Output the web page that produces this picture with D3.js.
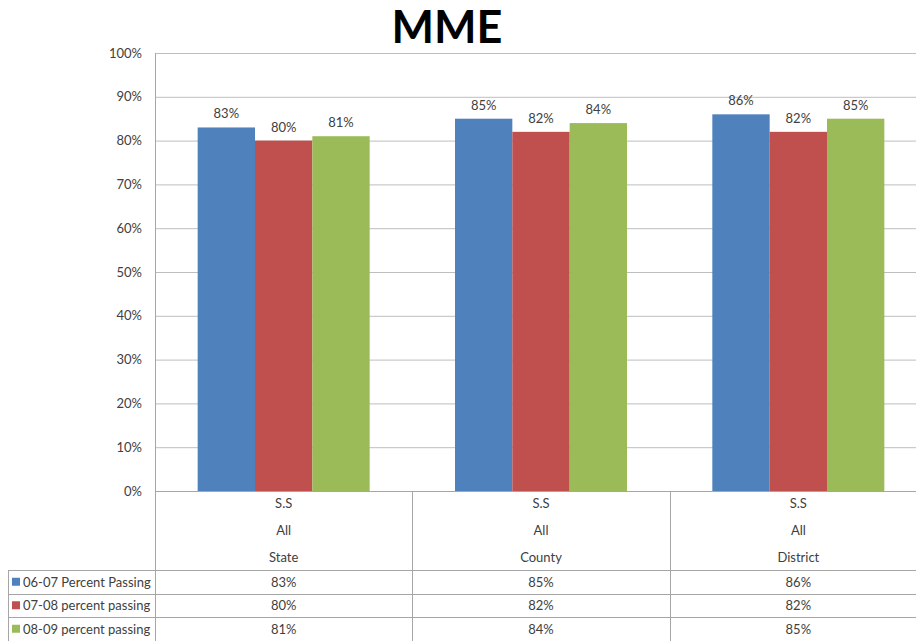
<!DOCTYPE html>
<html>
<head>
  <meta charset="utf-8">
  <title>MME</title>
  <style>
    body { margin: 0; background: #fff; }
    text { font-family: Lato, 'Open Sans', sans-serif; }
  </style>
</head>
<body>
  <script src="https://d3js.org/d3.v7.min.js"></script>
  <script>
    const categories = ['State', 'County', 'District'];
    const categoryLines = ['S.S', 'All'];
    const seriesNames = ['06-07 Percent Passing', '07-08 percent passing', '08-09 percent passing'];
    const colors = ['#4F81BD', '#C0504D', '#9BBB59'];
    const values0607 = [83, 85, 86];
    const values0708 = [80, 82, 82];
    const values0809 = [81, 84, 85];
    const yTicks = [0, 10, 20, 30, 40, 50, 60, 70, 80, 90, 100];

    const series = [values0607, values0708, values0809];

    const width = 916;
    const height = 641;
    const plotLeft = 155, plotRight = 927, plotTop = 53, plotBottom = 491;
    const tableLeft = 8;
    const rowLines = [570, 594, 617];
    const rowH = 23.5;

    const svg = d3.select('body')
      .append('svg')
      .attr('width', width)
      .attr('height', height);

    const x = d3.scaleBand().domain(categories).range([plotLeft, plotRight]);
    const xs = d3.scaleBand().domain(d3.range(3)).range([0, 172]);
    const y = d3.scaleLinear().domain([0, 100]).range([plotBottom, plotTop]);

    // title
    svg.append('text')
      .attr('x', 447)
      .attr('y', 43)
      .attr('text-anchor', 'middle')
      .attr('font-size', 45)
      .attr('font-weight', 'bold')
      .attr('fill', '#000')
      .text('MME');

    // gridlines
    svg.append('g')
      .selectAll('line')
      .data(yTicks.slice(1))
      .join('line')
      .attr('x1', plotLeft)
      .attr('x2', plotRight)
      .attr('y1', d => y(d) + 0.5)
      .attr('y2', d => y(d) + 0.5)
      .attr('stroke', '#BEBEBE')
      .attr('stroke-width', 1);

    // y axis labels
    svg.append('g')
      .selectAll('text')
      .data(yTicks)
      .join('text')
      .attr('x', 142)
      .attr('y', d => y(d) + 4.5)
      .attr('text-anchor', 'end')
      .attr('font-size', 13)
      .attr('fill', '#404040')
      .text(d => d + '%');

    // bars
    const groups = svg.append('g')
      .selectAll('g')
      .data(series)
      .join('g')
      .attr('fill', (d, i) => colors[i]);

    const barData = (d, i) => d.map((v, j) => ({ v, i, c: categories[j] }));
    const barX = d => x(d.c) + (x.bandwidth() - 172) / 2 + xs(d.i);

    groups.selectAll('rect')
      .data(barData)
      .join('rect')
      .attr('x', barX)
      .attr('y', d => y(d.v))
      .attr('width', xs.bandwidth())
      .attr('height', d => plotBottom - y(d.v));

    groups.selectAll('text')
      .data(barData)
      .join('text')
      .attr('x', d => barX(d) + xs.bandwidth() / 2)
      .attr('y', d => y(d.v) - 9)
      .attr('text-anchor', 'middle')
      .attr('font-size', 13)
      .attr('fill', '#404040')
      .text(d => d.v + '%');

    // frame lines
    const lines = svg.append('g').attr('stroke', '#A6A6A6').attr('stroke-width', 1);
    lines.append('line')
      .attr('x1', plotLeft + 0.5).attr('x2', plotLeft + 0.5)
      .attr('y1', plotTop).attr('y2', height);
    lines.append('line')
      .attr('x1', plotLeft).attr('x2', plotRight)
      .attr('y1', plotBottom + 0.5).attr('y2', plotBottom + 0.5);
    lines.selectAll('.vline')
      .data(categories.slice(1))
      .join('line')
      .attr('class', 'vline')
      .attr('x1', d => Math.round(x(d)) + 0.5)
      .attr('x2', d => Math.round(x(d)) + 0.5)
      .attr('y1', plotBottom)
      .attr('y2', height);
    lines.selectAll('.hline')
      .data(rowLines)
      .join('line')
      .attr('class', 'hline')
      .attr('x1', tableLeft)
      .attr('x2', plotRight)
      .attr('y1', d => d + 0.5)
      .attr('y2', d => d + 0.5);
    lines.append('line')
      .attr('x1', tableLeft + 0.5).attr('x2', tableLeft + 0.5)
      .attr('y1', rowLines[0]).attr('y2', height);

    // category labels
    const catG = svg.append('g')
      .selectAll('g')
      .data(categories)
      .join('g')
      .attr('transform', d => `translate(${x(d) + x.bandwidth() / 2},0)`);
    catG.selectAll('text')
      .data(d => categoryLines.concat([d]))
      .join('text')
      .attr('x', 0)
      .attr('y', (d, i) => 507.5 + i * 27)
      .attr('text-anchor', 'middle')
      .attr('font-size', 13)
      .attr('fill', '#404040')
      .text(d => d);

    // data table rows
    const rows = svg.append('g')
      .selectAll('g')
      .data(series)
      .join('g')
      .attr('transform', (d, i) => `translate(0,${rowLines[0] + i * rowH})`);

    rows.append('rect')
      .attr('x', 12)
      .attr('y', rowH / 2 - 4)
      .attr('width', 8)
      .attr('height', 8)
      .attr('fill', (d, i) => colors[i]);

    rows.append('text')
      .attr('x', 23)
      .attr('y', rowH / 2 + 5)
      .attr('font-size', 13)
      .attr('fill', '#404040')
      .text((d, i) => seriesNames[i]);

    rows.selectAll('.val')
      .data(d => d.map((v, j) => ({ v, c: categories[j] })))
      .join('text')
      .attr('class', 'val')
      .attr('x', d => x(d.c) + x.bandwidth() / 2)
      .attr('y', rowH / 2 + 5)
      .attr('text-anchor', 'middle')
      .attr('font-size', 13)
      .attr('fill', '#404040')
      .text(d => d.v + '%');
  </script>
</body>
</html>
